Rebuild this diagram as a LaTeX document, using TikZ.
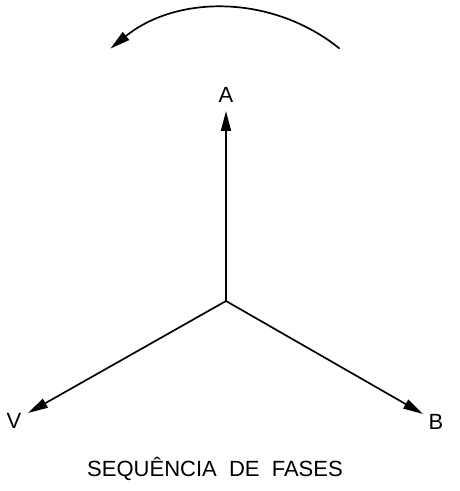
\documentclass[tikz,border=0pt]{standalone}
\usepackage{fontspec}
\setmainfont{Liberation Sans}
\usetikzlibrary{arrows.meta}

\tikzset{
  phasor/.style={line width=1.7pt, -{Triangle[length=20pt,width=10pt]}},
  phaselabel/.style={font=\fontsize{22}{24}\selectfont, inner sep=0pt},
}

\begin{document}
\begin{tikzpicture}[x=1pt, y=1pt]
    \useasboundingbox (0,0) rectangle (459,491);

    % Star centre and phasor tips
    \coordinate (O) at (226,190);
    \coordinate (tipA) at (226,380);
    \coordinate (tipV) at (28,78);
    \coordinate (tipB) at (423,77);

    % Phase labels
    \node[phaselabel] (A) at (226,396) {A};
    \node[phaselabel] (V) at (14,70) {V};
    \node[phaselabel] (B) at (436,69) {B};

    % Phasors
    \draw[phasor] (O) -- (tipA);
    \draw[phasor] (O) -- (tipV);
    \draw[phasor] (O) -- (tipB);

    % Rotation sense
    \coordinate (R) at (225,301);
    \draw[phasor] ([shift={(51:182)}]R) arc[start angle=51, end angle=129, radius=182];

    % Caption
    \node[font=\fontsize{22}{24}\selectfont, inner sep=0pt] (title) at (215,22.5) {SEQUÊNCIA\ \ DE\ \ FASES};
\end{tikzpicture}
\end{document}
